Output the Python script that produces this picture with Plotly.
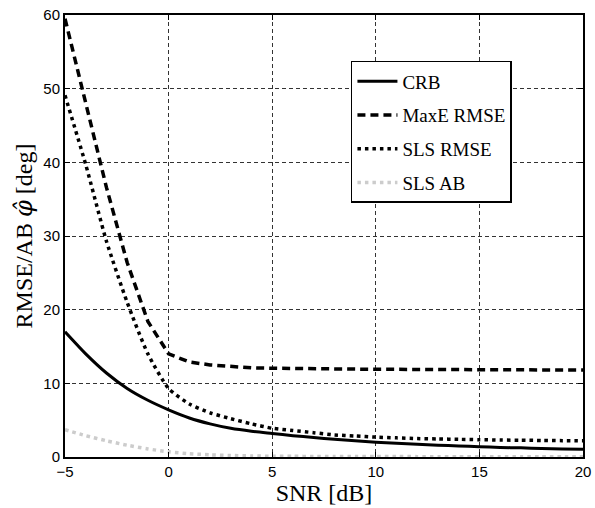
import plotly.graph_objects as go

snr = list(range(-5, 21))
crb = [17.0, 14.0, 11.4, 9.3, 7.7, 6.4, 5.3, 4.5, 3.9, 3.5, 3.2, 2.9, 2.65, 2.4, 2.2,
       2.0, 1.85, 1.72, 1.6, 1.5, 1.4, 1.3, 1.24, 1.16, 1.1, 1.05]
maxe = [59.5, 47.8, 36.6, 26.4, 18.4, 14.0, 12.9, 12.5, 12.25, 12.1, 12.05, 12.0, 12.0, 11.95,
        11.95, 11.9, 11.9, 11.9, 11.85, 11.85, 11.85, 11.8, 11.8, 11.8, 11.8, 11.8]
sls_rmse = [49.1, 39.7, 29.3, 21.0, 14.0, 9.3, 7.2, 6.0, 5.2, 4.5, 3.9, 3.6, 3.3, 3.0, 2.85,
            2.7, 2.6, 2.5, 2.45, 2.4, 2.35, 2.3, 2.28, 2.25, 2.22, 2.2]
sls_ab = [3.7, 2.9, 2.2, 1.6, 1.1, 0.7, 0.45, 0.3, 0.2, 0.15, 0.1, 0.09, 0.08, 0.07, 0.07,
          0.06, 0.06, 0.05, 0.05, 0.05, 0.05, 0.05, 0.05, 0.05, 0.05, 0.05]

names = ["CRB", "MaxE RMSE", "SLS RMSE", "SLS AB"]
series = [crb, maxe, sls_rmse, sls_ab]
styles = [
    dict(color="black", width=3, dash="solid", shape="spline", smoothing=0.6),
    dict(color="black", width=3.5, dash="8px,5px", shape="linear"),
    dict(color="black", width=3.5, dash="3.5px,4px", shape="spline", smoothing=0.6),
    dict(color="#cccccc", width=3.5, dash="3.5px,4px", shape="spline", smoothing=0.6),
]

fig = go.Figure()
for i, (n, s, st) in enumerate(zip(names, series, styles)):
    fig.add_trace(go.Scatter(x=snr, y=s, mode="lines", name=n, line=st,
                             legendgroup=f"g{i}"))

serif = "Liberation Serif"
sans = "Liberation Sans"
fig.update_layout(
    width=595, height=508,
    margin=dict(l=65, r=12, t=15, b=51),
    paper_bgcolor="white", plot_bgcolor="white",
    showlegend=True,
    legend=dict(
        x=0.552, y=0.896, xanchor="left", yanchor="top",
        bgcolor="white", bordercolor="black", borderwidth=1.5,
        font=dict(family=serif, size=19, color="black"),
        tracegroupgap=6, itemwidth=40,
    ),
    xaxis=dict(
        range=[-5, 20], tickvals=[-5, 0, 5, 10, 15, 20], automargin=False,
        showgrid=True, gridcolor="#333333", gridwidth=1, griddash="4px,3px",
        zeroline=False, showline=True, linecolor="black", linewidth=2, mirror="ticks",
        ticks="inside", ticklen=5, tickcolor="black",
        tickfont=dict(family=sans, size=15, color="black"),
        title=dict(text="SNR [dB]", font=dict(family=serif, size=24, color="black"), standoff=2),
    ),
    yaxis=dict(
        range=[0, 60], tickvals=[0, 10, 20, 30, 40, 50, 60], automargin=False,
        showgrid=True, gridcolor="#333333", gridwidth=1, griddash="4px,3px",
        zeroline=False, showline=True, linecolor="black", linewidth=2, mirror="ticks",
        ticks="inside", ticklen=5, tickcolor="black",
        tickfont=dict(family=sans, size=15, color="black"),
        title=dict(text="RMSE/AB <span style=\"font-family:'DejaVu Serif'\"><i>φ̂</i></span> [deg]",
                   font=dict(family=serif, size=24, color="black"), standoff=4),
    ),
)

fig.write_html("out.html")
